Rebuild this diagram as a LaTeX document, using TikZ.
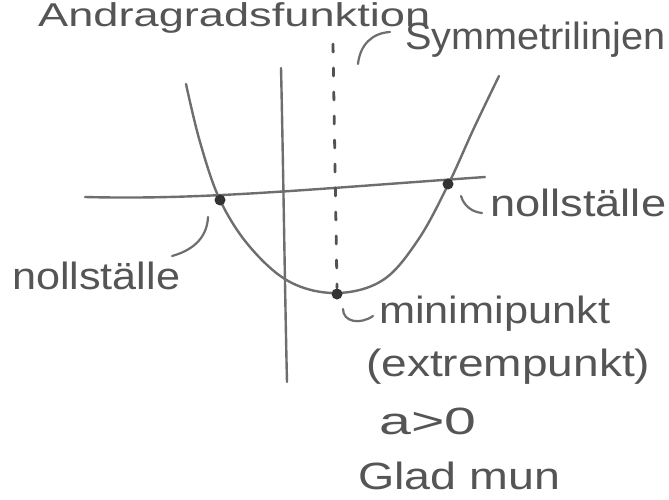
\documentclass[tikz,border=0pt]{standalone}
\usepackage{fontspec}
\setmainfont{Liberation Sans}
\definecolor{pen}{HTML}{6E6E6E}
\definecolor{ink}{HTML}{555555}
\definecolor{dotc}{HTML}{333333}
\newcommand\fitw[2]{\resizebox{#1}{\height}{#2}}
\tikzset{
  stroke/.style={draw=pen, line width=2.4pt, line cap=round, line join=round},
  leader/.style={draw=pen, line width=2.2pt, line cap=round},
  dashline/.style={draw=dotc!85, line width=2.8pt, line cap=round, dash pattern=on 8pt off 16pt},
  hw/.style={inner sep=0pt, anchor=base west, text=ink, font=\fontsize{38}{40}\selectfont},
  dotpt/.style={circle, fill=dotc, inner sep=0pt, minimum size=11pt}
}
\begin{document}
\begin{tikzpicture}[x=1pt,y=-1pt]
\useasboundingbox (0,0) rectangle (669,500);
\clip (0,0) rectangle (669,500);
\fill[white] (0,0) rectangle (669,500);

% title
\node[hw, font=\fontsize{33}{35}\selectfont] (title) at (38,27) {\fitw{392pt}{Andragradsfunktion}};

% axes
\coordinate (xl) at (85,197);
\coordinate (xr) at (485,177);
\coordinate (yt) at (281,68);
\coordinate (yb) at (287,382);
\draw[stroke] (xl) .. controls (200,200) and (300,190) .. (xr);
\draw[stroke] (yt) .. controls (283,150) and (285,300) .. (yb);

% symmetry line
\coordinate (st) at (333,44);
\coordinate (sb) at (337,288);
\draw[dashline] (st) -- (sb);

% parabola
\draw[stroke] plot[smooth, tension=0.6] coordinates {(186,84) (200,142) (220,200) (250,247) (290,282) (337,293) (383,280) (418,240) (448,185) (474,128) (499,76)};

% points
\node[dotpt] (n1) at (220,200) {};
\node[dotpt] (n2) at (448,184) {};
\node[dotpt] (mn) at (337,294) {};

% labels
\node[hw] (sym) at (405,50) {\fitw{260pt}{Symmetrilinjen}};
\node[hw] (nr) at (490,216) {\fitw{176pt}{nollställe}};
\node[hw] (nl) at (12,289) {\fitw{168pt}{nollställe}};
\node[hw] (mp) at (379,323) {\fitw{231pt}{minimipunkt}};
\node[hw] (ep) at (366,376) {\fitw{284pt}{(extrempunkt)}};
\node[hw] (ag) at (379,434) {\fitw{97pt}{a>0}};
\node[hw] (gm) at (358,489) {\fitw{202pt}{Glad mun}};

% leaders
\coordinate (s1) at (358,64);
\coordinate (s2) at (390,32);
\draw[leader] (s1) .. controls (360,45) and (372,33) .. (s2);
\coordinate (r1) at (461,196);
\coordinate (r2) at (482,213);
\draw[leader] (r1) .. controls (464,206) and (472,212) .. (r2);
\coordinate (l1) at (208,217);
\coordinate (l2) at (172,256);
\draw[leader] (l1) .. controls (207,240) and (190,251) .. (l2);
\coordinate (m1) at (343,309);
\coordinate (m2) at (373,316);
\draw[leader] (m1) .. controls (343,322) and (360,325) .. (m2);
\end{tikzpicture}
\end{document}
